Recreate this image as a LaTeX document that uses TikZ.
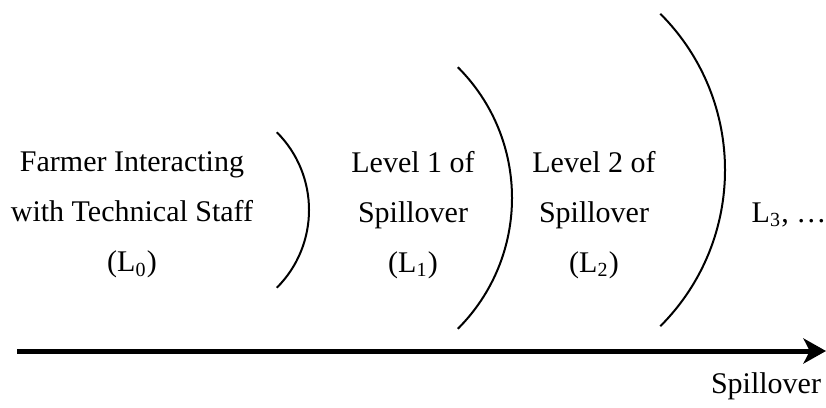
\documentclass[tikz,border=0pt]{standalone}
\usepackage{fontspec}
\setmainfont{Liberation Serif}
\usetikzlibrary{arrows.meta, positioning}

\begin{document}
\begin{tikzpicture}[x=0.4pt, y=0.4pt,
  lvltext/.style={align=center, inner sep=0pt, font=\fontsize{12}{20}\selectfont},
  ring/.style={line width=0.8pt}]
\useasboundingbox (0,0) rectangle (826,407);
% levels of spillover
\node[lvltext] (lzero) at (132,192) {Farmer Interacting\\with Technical Staff\\(L\textsubscript{0})};
\node[lvltext] (lone) at (413,192) {Level 1 of\\Spillover\\(L\textsubscript{1})};
\node[lvltext] (ltwo) at (594,192) {Level 2 of\\Spillover\\(L\textsubscript{2})};
\node[lvltext] (lthree) at (789,192) {L\textsubscript{3}, …};
% arcs between the levels
\coordinate (ca) at (199,197);
\coordinate (cb) at (327,209);
\coordinate (cc) at (504,237);
\draw[ring] (ca) ++(-45:44pt) arc[start angle=-45, end angle=45, radius=44pt];
\draw[ring] (cb) ++(-45:74pt) arc[start angle=-45, end angle=45, radius=74pt];
\draw[ring] (cc) ++(-45:88.4pt) arc[start angle=-45, end angle=45, radius=88.4pt];
% spillover axis
\coordinate (axstart) at (17,56);
\coordinate (axend) at (826,56);
\draw[-{Stealth[length=9pt, width=10pt, inset=2.5pt]}, line width=2pt] (axstart) -- (axend);
\node[lvltext] (axlabel) at (766,21) {Spillover};
\end{tikzpicture}
\end{document}
